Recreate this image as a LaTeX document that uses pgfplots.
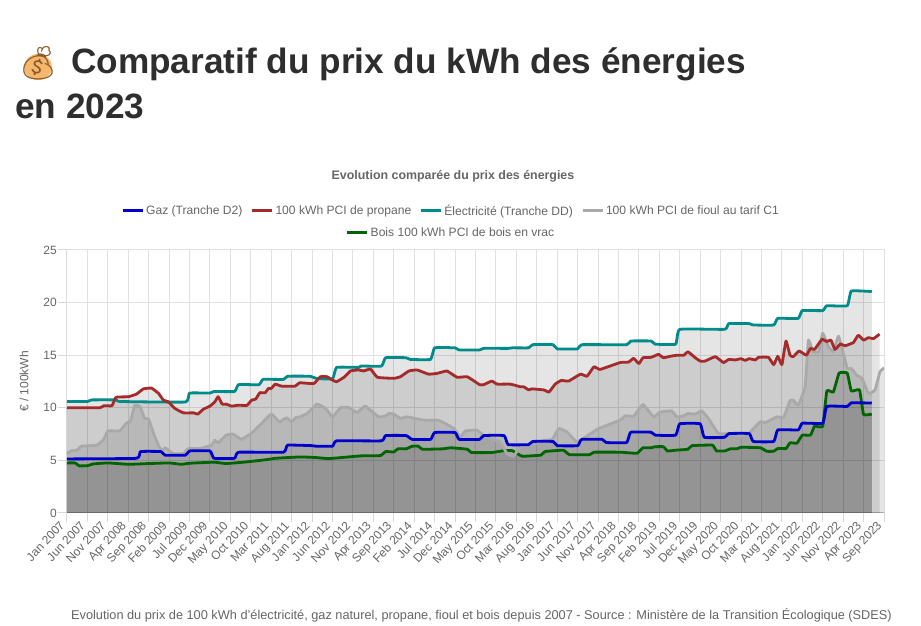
\documentclass[border=0pt]{standalone}
\usepackage{fontspec}
\usepackage{pgfplots}
\usepackage{pgfplotstable}
\pgfplotsset{compat=1.18}
\setmainfont{Liberation Sans}
\newfontfamily\emojifont{Noto Emoji}
\definecolor{cgaz}{HTML}{0000CD}
\definecolor{cprop}{HTML}{A52A2A}
\definecolor{celec}{HTML}{008B8B}
\definecolor{cfioul}{HTML}{A9A9A9}
\definecolor{cbois}{HTML}{006400}
\definecolor{ctxt}{HTML}{666666}
\definecolor{cbag}{HTML}{F5B76B}
\definecolor{cbagd}{HTML}{8A5A2B}
\pgfplotstableread{
x y
0 5.14
17 5.2
18 5.84
23 5.84
24 5.5
29 5.5
30 5.9
35 5.9
36 5.2
41 5.2
42 5.78
53 5.78
54 6.45
60 6.4
61 6.35
65 6.35
66 6.86
77 6.86
78 7.36
83 7.36
84.5 7.0
89 7.0
90 7.65
95 7.65
96 7.0
101 7.0
102 7.36
107 7.36
108 6.5
113 6.5
114 6.8
119 6.8
120 6.4
125 6.4
126 7.0
131 7.0
132 6.7
137 6.7
138 7.68
143 7.68
144 7.4
149 7.4
150 8.48
155 8.48
156 7.2
161 7.2
162 7.55
167 7.55
168 6.8
173 6.8
174 7.9
179 7.9
180 8.54
185 8.54
186 10.13
191 10.13
192 10.48
197 10.45
}\gaz
\pgfplotstableread{
x y
0 10.0
8 10.0
9 10.2
11 10.2
12 11.0
15 11.05
17 11.3
18.7 11.8
20.7 11.87
22.4 11.37
23.6 10.73
24.8 10.57
26.4 9.94
28.5 9.52
31 9.52
32 9.4
33.4 9.87
35 10.16
36.2 10.57
37 11.05
38 10.35
39 10.35
40.3 10.16
42 10.25
44 10.22
45.2 10.73
46.2 10.83
47.2 11.43
48.5 11.43
49.3 11.84
50 11.84
51 12.25
52.5 12.06
55.8 12.06
57 12.38
60.4 12.3
62 12.95
63.7 12.95
65 12.63
66 12.48
67.8 12.9
69.4 13.5
71.4 13.6
72.6 13.5
74.3 13.68
76 12.9
80 12.8
81.6 12.95
83.7 13.5
85.7 13.6
88.5 13.2
90.6 13.27
93 13.5
95.5 12.9
98 12.95
101 12.2
102 12.2
104 12.54
105.3 12.25
108.5 12.25
111 12.0
111.8 12.0
113 11.7
113.8 11.8
116.7 11.7
118 11.5
119.5 12.25
121 12.6
122.8 12.54
125.7 13.2
127.3 13.0
129 13.9
130.5 13.65
135.4 14.3
137.5 14.35
138.7 14.7
140 14.2
141 14.76
143 14.8
144.8 15.08
146 14.76
147.7 14.9
149.3 15.0
151 15.0
152 15.33
153.8 14.76
155 14.44
156.2 14.44
158.7 14.86
160.7 14.3
162 14.6
163.6 14.55
165 14.67
166 14.5
167 14.67
168.5 14.55
169.3 14.8
171.7 14.8
173 14.1
174 14.9
175 14.1
176 16.35
177 15.0
177.8 14.86
179.2 15.4
181 15.0
182 15.65
183 15.55
184.8 16.5
186 16.3
187 16.44
188 15.55
189.3 16.06
190.5 15.9
192.5 16.2
193.7 16.9
195 16.44
196.2 16.67
197.4 16.57
198.9 17.0
}\propane
\pgfplotstableread{
x y
0 10.6
5 10.6
6 10.75
12 10.75
13 10.6
29 10.55
30 11.4
35 11.4
36 11.55
41 11.55
42 12.2
47 12.2
48 12.7
53 12.7
54 13.0
59.5 13.0
61 12.8
65 12.75
66 13.84
71.4 13.84
72 13.97
77 13.97
78 14.76
83 14.76
84 14.6
89 14.6
90 15.7
95 15.7
96 15.5
101 15.5
102 15.65
108 15.65
109 15.7
113 15.7
114 16.0
119 16.0
120 15.6
125 15.6
126 16.0
137 16.0
138 16.35
143 16.35
144 16.05
149 16.05
150 17.46
161 17.46
162 18.0
167 18.0
168 17.87
173 17.87
174 18.5
179 18.5
180 19.24
185 19.24
186 19.7
191 19.7
192 21.1
197 21.05
}\elec
\pgfplotstableread{
x y
0 5.65
1 5.9
2.4 5.97
3.6 6.35
7.3 6.45
9 7.0
10 7.8
12.9 7.8
14.6 8.57
15.5 8.7
16.6 10.25
17.9 10.1
19 9.0
20 8.9
21.5 7.24
22.8 6.1
23.6 5.97
24 6.2
26 5.65
28.5 5.65
29.7 6.13
32.5 6.13
35.4 6.45
36.2 6.92
37 6.67
39 7.4
40.7 7.5
42.7 7.0
45.2 7.6
47.6 8.5
50 9.4
52 8.67
53.7 9.05
55 8.67
56 9.08
57 9.14
58.8 9.46
61.2 10.35
63.3 9.94
65 9.14
67 10.03
69 10.03
71 9.55
73 10.16
76.3 9.14
78 9.24
78.8 9.46
80 9.4
81.6 9.0
83.2 9.14
87.3 8.83
90.6 8.83
91.8 8.67
94.7 8.03
96.3 7.24
97.5 7.8
100.4 7.87
102.4 7.24
106 6.76
107.7 5.65
109.3 5.4
111 6.29
114 6.54
116.8 6.9
118.8 7.0
120.4 8.03
122.4 7.7
124.8 6.76
127 7.24
130 8.0
135.4 8.83
136.7 9.24
138.7 9.2
141 10.3
143.6 9.14
145.2 9.6
148 9.7
149.3 9.14
151 9.24
152 9.46
153.8 9.4
155.4 9.7
157 9.0
159.5 7.55
163 7.55
164.4 7.24
166.8 7.55
169.7 8.67
171 8.6
173.8 9.14
175.4 9.08
177 10.67
177.8 10.73
179 10.25
180.7 12.0
181.5 16.44
182.6 15.33
184 15.33
185 17.08
186.4 15.8
187.6 15.33
188.9 16.8
191 13.75
192 13.75
193.3 13.1
194.6 12.8
196.2 11.37
197.8 11.7
199 13.4
200 13.8
}\fioul
\pgfplotstableread{
x y
0 4.76
2 4.76
3 4.48
5 4.5
6.5 4.67
10 4.76
15 4.63
20 4.7
25 4.76
28 4.63
30 4.73
36 4.83
39 4.7
44 4.86
49 5.08
51 5.2
57 5.33
61 5.27
64 5.17
68 5.3
72 5.43
76.7 5.46
78 5.84
80 5.8
81 6.1
83 6.1
84.5 6.35
86 6.35
87 6.06
92 6.1
94 6.2
98 6.06
99 5.75
104 5.75
107 5.93
109 5.93
111.4 5.4
116 5.5
117 5.84
121.5 5.97
123 5.55
128 5.55
129 5.78
135.4 5.78
139.5 5.68
141 6.2
143 6.2
144 6.3
146 6.3
147 5.9
149 5.97
152 6.06
153 6.4
158 6.45
159 5.9
161 5.9
162.4 6.1
164 6.1
165 6.25
169.7 6.2
171.3 5.87
173 5.87
174 6.13
176 6.13
177 6.67
178.7 6.64
180 7.4
182 7.4
183 8.25
185 8.25
186 11.6
187.6 11.5
189 13.3
191 13.3
192 11.6
194 11.7
195 9.37
197 9.4
}\bois
\begin{document}
\begin{tikzpicture}[x=1pt,y=1pt]
\path[use as bounding box,fill=white] (0,0) rectangle (921,626);
% page heading
\fill[cbag] (38,559) ellipse (14 and 13);
\node[anchor=center,inner sep=0pt,text=cbagd] at (38,563) {\emojifont\fontsize{33}{33}\selectfont 💰};
\node[anchor=base west,inner sep=0pt,text=black!82] at (71,552) {\fontsize{35.2}{35.2}\selectfont\bfseries Comparatif du prix du kWh des énergies};
\node[anchor=base west,inner sep=0pt,text=black!82] at (15,507) {\fontsize{35.2}{35.2}\selectfont\bfseries en 2023};
\node[anchor=base,inner sep=0pt,text=ctxt] at (453,446) {\fontsize{12.4}{12.4}\selectfont\bfseries Evolution comparée du prix des énergies};
\node[anchor=base,inner sep=0pt,text=ctxt] at (481.5,6) {\fontsize{12.75}{12.75}\selectfont Evolution du prix de 100 kWh d'électricité, gaz naturel, propane, fioul et bois depuis 2007 - Source : Ministère de la Transition Écologique (SDES)};
\begin{axis}[
  at={(67pt,113pt)},anchor=south west,
  scale only axis,width=817pt,height=263pt,
  xmin=0,xmax=200,ymin=0,ymax=25,
  xtick={0,5,...,200},
  xticklabels={Jan 2007,Jun 2007,Nov 2007,Apr 2008,Sep 2008,Feb 2009,Jul 2009,Dec 2009,May 2010,Oct 2010,Mar 2011,Aug 2011,Jan 2012,Jun 2012,Nov 2012,Apr 2013,Sep 2013,Feb 2014,Jul 2014,Dec 2014,May 2015,Oct 2015,Mar 2016,Aug 2016,Jan 2017,Jun 2017,Nov 2017,Apr 2018,Sep 2018,Feb 2019,Jul 2019,Dec 2019,May 2020,Oct 2020,Mar 2021,Aug 2021,Jan 2022,Jun 2022,Nov 2022,Apr 2023,Sep 2023},
  ytick={0,5,...,25},
  grid=both,
  major grid style={black!12,line width=1pt},
  tick style={black!15,line width=1pt},
  major tick length=9pt,
  tick align=outside,
  tick pos=left,
  axis line style={black!12,line width=1pt},
  xticklabel style={rotate=47,anchor=north east,font=\fontsize{12}{12}\selectfont,text=ctxt,inner sep=1pt,xshift=-3pt,yshift=8pt},
  yticklabel style={font=\fontsize{12}{12}\selectfont,text=ctxt,inner sep=2pt,xshift=1pt},
  /pgf/number format/assume math mode=true,
  ylabel={€ / 100kWh},
  y label style={at={(axis description cs:-0.0526,0.5)},anchor=center,font=\fontsize{12}{12}\selectfont,text=ctxt},
  legend style={at={(0.47,1.149)},anchor=center,draw=none,fill=none,font=\fontsize{12.1}{12.1}\selectfont,text=ctxt,
    /tikz/every even column/.append style={column sep=6pt},inner sep=0pt},
  legend columns=4,
  legend cell align=left,
  legend image post style={line width=3pt},
  legend image code/.code={\draw[#1] (0cm,0cm) -- (20pt,0cm);},
]
\addlegendimage{cgaz}\addlegendentry{Gaz (Tranche D2)}
\addlegendimage{cprop}\addlegendentry{100 kWh PCI de propane}
\addlegendimage{celec}\addlegendentry{Électricité (Tranche DD)}
\addlegendimage{cfioul}\addlegendentry{100 kWh PCI de fioul au tarif C1}
\draw[black!27,line width=1pt] (rel axis cs:0,1)--(rel axis cs:0,0)--(rel axis cs:1,0);
% all the fills first, then the lines, last legend item first
\addplot[forget plot,draw=none,fill=black,fill opacity=0.1] table {\bois} \closedcycle;
\addplot[forget plot,draw=none,fill=black,fill opacity=0.1] table {\fioul} \closedcycle;
\addplot[forget plot,draw=none,fill=black,fill opacity=0.1] table {\elec} \closedcycle;
\addplot[forget plot,draw=none,fill=black,fill opacity=0.1] table {\propane} \closedcycle;
\addplot[forget plot,draw=none,fill=black,fill opacity=0.1] table {\gaz} \closedcycle;
\addplot[forget plot,cbois,line width=2.8pt,line join=round,smooth,tension=0.2] table {\bois};
\addplot[forget plot,cfioul,line width=2.8pt,line join=round,smooth,tension=0.2] table {\fioul};
\addplot[forget plot,celec,line width=2.8pt,line join=round,smooth,tension=0.2] table {\elec};
\addplot[forget plot,cprop,line width=2.8pt,line join=round,smooth,tension=0.2] table {\propane};
\addplot[forget plot,cgaz,line width=2.8pt,line join=round,smooth,tension=0.2] table {\gaz};
\end{axis}
\begin{axis}[
  at={(67pt,113pt)},anchor=south west,
  scale only axis,width=817pt,height=263pt,
  xmin=0,xmax=200,ymin=0,ymax=25,hide axis,
  legend style={at={(0.47,1.065)},anchor=center,draw=none,fill=none,font=\fontsize{12.1}{12.1}\selectfont,text=ctxt,inner sep=0pt},
  legend image post style={line width=3pt},
  legend image code/.code={\draw[#1] (0cm,0cm) -- (20pt,0cm);},
]
\addlegendimage{cbois}\addlegendentry{Bois 100 kWh PCI de bois en vrac}
\end{axis}
\end{tikzpicture}
\end{document}
